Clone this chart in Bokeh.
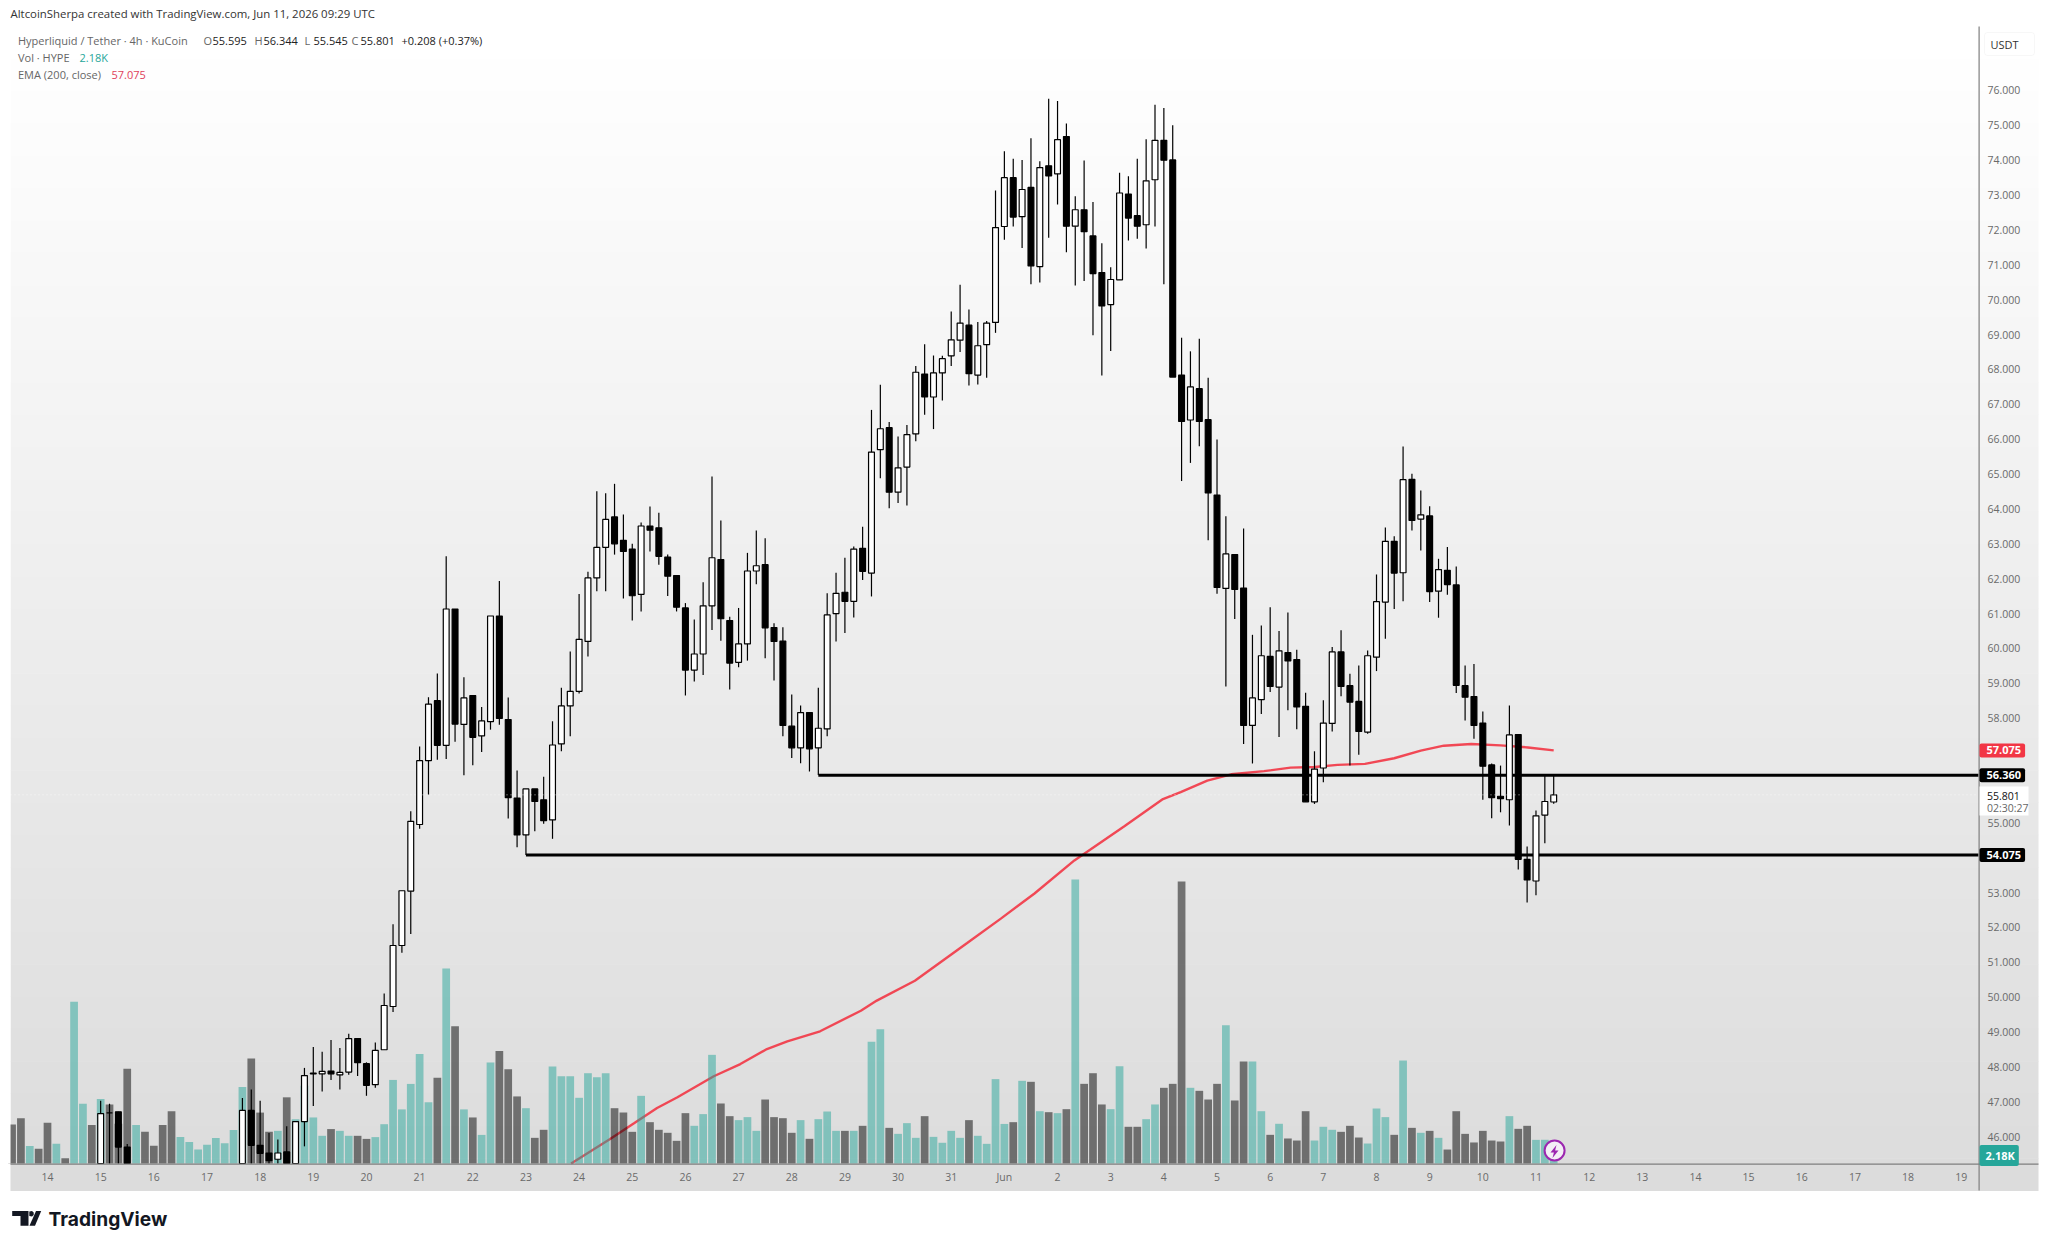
from bokeh.plotting import figure
from bokeh.embed import file_html
from bokeh.resources import INLINE
from bokeh.models import (BoxAnnotation, FixedTicker, Label, LinearAxis, NumeralTickFormatter,
                          PolyAnnotation, Range1d)

# ---------- data ----------
candle_bar = [6, 7, 8, 9] + list(range(22, 171))
open_ = [45.0, 46.68, 46.71, 45.7,
    45.0, 46.75, 45.75, 45.53, 45.35, 45.56, 45.1, 46.43, 47.8, 47.8, 47.88, 47.77, 47.85, 48.81, 48.09, 47.49,
    48.49, 49.73, 51.48, 53.04, 54.95, 56.78, 58.5, 57.22, 61.13, 57.82, 58.65, 57.49, 57.9, 60.93, 57.96, 55.71,
    54.65, 55.97, 55.66, 55.08, 57.26, 58.35, 58.77, 60.2, 62.02, 62.9, 63.77, 63.1, 62.85, 61.55, 63.51, 63.46,
    62.62, 62.09, 61.16, 59.38, 59.84, 61.22, 62.55, 60.8, 59.6, 60.13, 62.22, 62.4, 60.6, 60.21, 57.77, 57.15,
    58.16, 57.15, 57.69, 61.0, 61.61, 61.35, 62.87, 62.16, 65.7, 66.33, 64.48, 65.2, 66.15, 67.87, 67.21, 67.9,
    68.39, 68.84, 69.27, 67.84, 68.71, 69.35, 72.1, 73.5, 72.38, 73.22, 70.95, 73.84, 73.61, 74.68, 72.11, 72.58,
    71.83, 70.78, 69.86, 70.57, 73.03, 72.41, 72.15, 73.44, 74.57, 74.01, 67.84, 66.55, 67.45, 66.56, 64.4, 61.72,
    62.69, 61.73, 57.79, 58.53, 59.77, 58.89, 59.88, 59.68, 58.34, 55.6, 56.57, 57.85, 59.9, 58.93, 58.48, 57.6,
    59.75, 61.33, 63.07, 62.17, 64.85, 63.71, 63.8, 61.64, 62.24, 61.82, 58.93, 58.62, 57.86, 56.66, 55.76, 55.66,
    57.53, 53.95, 53.33, 55.22, 55.595]
high = [47.03, 46.94, 46.71, 45.79,
    47.11, 47.35, 47.03, 46.1, 45.92, 46.3, 46.43, 47.97, 48.57, 48.43, 48.77, 48.54, 48.95, 48.81, 48.13, 48.7,
    50.1, 52.09, 53.05, 55.33, 57.19, 58.6, 59.28, 62.64, 61.13, 59.17, 58.65, 58.32, 60.93, 61.93, 58.59, 56.5,
    55.97, 55.97, 56.32, 57.91, 58.87, 59.91, 61.56, 62.2, 64.51, 64.45, 64.72, 63.84, 63.0, 63.61, 64.07, 63.89,
    62.69, 62.09, 61.3, 60.83, 61.9, 64.93, 63.67, 60.91, 61.16, 62.74, 63.38, 63.16, 60.72, 60.61, 58.68, 58.36,
    58.16, 58.87, 61.58, 62.17, 62.6, 62.92, 63.49, 66.84, 67.56, 66.49, 66.08, 66.41, 68.1, 68.72, 68.4, 68.39,
    69.66, 70.43, 69.72, 69.36, 69.39, 73.13, 74.26, 74.04, 74.01, 74.63, 73.97, 75.76, 75.7, 75.05, 72.97, 73.99,
    72.8, 71.62, 70.93, 73.64, 73.54, 74.04, 74.6, 75.59, 75.5, 75.0, 68.91, 68.52, 68.88, 67.76, 65.99, 63.79,
    62.69, 63.44, 60.39, 60.66, 61.18, 60.5, 61.03, 59.96, 58.73, 57.05, 58.51, 60.04, 60.52, 59.27, 59.51, 59.94,
    62.12, 63.47, 63.22, 65.79, 65.01, 64.53, 64.08, 62.57, 62.91, 62.35, 59.51, 59.55, 58.19, 56.7, 56.64, 58.36,
    57.53, 54.32, 55.35, 56.35, 56.344]
low = [44.8, 44.9, 45.0, 44.9,
    44.9, 45.1, 45.2, 45.2, 45.2, 44.9, 45.0, 45.72, 46.88, 47.29, 47.62, 47.35, 47.77, 47.74, 47.17, 47.4,
    48.49, 49.57, 51.27, 51.81, 54.83, 55.81, 56.81, 56.83, 57.32, 56.36, 56.65, 57.03, 57.67, 57.81, 55.12, 54.3,
    54.075, 54.76, 54.97, 54.54, 57.05, 57.48, 58.71, 59.77, 61.64, 61.64, 62.69, 61.43, 60.8, 61.06, 62.78, 62.4,
    61.5, 61.06, 58.65, 59.05, 59.24, 60.53, 60.22, 58.82, 59.46, 59.65, 61.84, 59.72, 59.08, 57.48, 56.86, 56.71,
    56.47, 56.37, 57.48, 60.2, 60.44, 60.89, 61.96, 61.49, 64.88, 64.02, 64.17, 64.1, 65.94, 66.7, 66.29, 67.11,
    68.1, 68.5, 67.54, 67.57, 67.76, 69.05, 71.72, 72.1, 71.48, 70.44, 70.49, 71.78, 72.73, 71.36, 70.41, 70.54,
    68.98, 67.83, 68.53, 70.57, 71.7, 71.75, 71.47, 72.1, 70.44, 67.78, 64.8, 65.32, 65.8, 63.1, 61.57, 58.91,
    60.84, 57.26, 56.7, 58.12, 58.75, 57.46, 58.23, 57.68, 55.6, 55.54, 56.16, 57.62, 58.63, 56.64, 56.95, 57.55,
    59.35, 60.28, 61.13, 61.35, 63.38, 62.81, 61.33, 60.88, 61.54, 58.72, 57.93, 57.41, 55.66, 55.13, 55.3, 54.92,
    53.66, 52.71, 52.92, 54.41, 55.545]
close = [46.66, 46.68, 45.7, 45.0,
    46.75, 45.75, 45.52, 45.31, 45.53, 45.1, 46.43, 47.75, 47.82, 47.87, 47.8, 47.84, 48.81, 48.12, 47.47, 48.47,
    49.76, 51.48, 53.05, 55.04, 56.78, 58.4, 57.22, 61.13, 57.83, 58.58, 57.45, 57.92, 60.93, 57.99, 55.72, 54.65,
    55.97, 55.61, 55.06, 57.23, 58.35, 58.77, 60.26, 62.02, 62.9, 63.7, 63.0, 62.78, 61.51, 63.51, 63.39, 62.64,
    62.07, 61.18, 59.38, 59.84, 61.22, 62.6, 60.85, 59.58, 60.13, 62.22, 62.37, 60.59, 60.2, 57.79, 57.15, 58.16,
    57.12, 57.71, 60.96, 61.58, 61.35, 62.85, 62.21, 65.63, 66.3, 64.48, 65.18, 66.13, 67.92, 67.21, 67.9, 68.31,
    68.85, 69.33, 67.88, 68.68, 69.33, 72.07, 73.5, 72.37, 73.16, 70.97, 73.79, 73.55, 74.59, 72.11, 72.58, 71.95,
    70.75, 69.82, 70.58, 73.06, 72.34, 72.11, 73.41, 74.57, 74.0, 67.78, 66.51, 67.5, 66.51, 64.46, 61.75, 62.71,
    61.69, 57.79, 58.58, 59.79, 58.91, 59.93, 59.64, 58.32, 55.6, 56.54, 57.86, 59.9, 58.91, 58.46, 57.62, 59.79,
    61.34, 63.07, 62.16, 64.84, 63.67, 63.83, 61.63, 62.26, 61.83, 58.94, 58.6, 57.79, 56.62, 55.72, 55.69, 57.52,
    53.95, 53.36, 55.2, 55.61, 55.801]

vol_first_bar = -4
volume = [4.79, 5.56, 2.15, 1.82,
    5.01, 2.42, 0.66, 19.92, 7.37, 4.73,
    7.93, 7.26, 4.9, 11.67, 4.73, 3.91,
    2.2, 4.73, 6.44, 3.25, 2.64, 1.71,
    2.31, 3.14, 2.48, 4.13, 9.41, 12.93,
    6.27, 3.91, 4.02, 8.15, 5.45, 9.58,
    5.67, 3.41, 4.24, 4.02, 3.41, 3.41,
    3.03, 3.25, 4.84, 10.29, 6.66, 9.8,
    13.48, 7.54, 10.57, 24.0, 16.9, 6.66,
    5.67, 3.52, 12.44, 13.87, 11.61, 8.26,
    6.81, 3.16, 4.15, 11.95, 10.76, 10.76,
    8.09, 11.12, 10.63, 11.12, 6.81, 6.28,
    3.9, 8.33, 5.09, 4.15, 3.78, 2.79,
    6.2, 4.64, 6.08, 13.38, 7.39, 5.83,
    5.34, 5.71, 4.02, 7.88, 5.71, 5.58,
    3.78, 5.34, 3.04, 5.46, 6.4, 4.02,
    4.02, 4.02, 4.64, 14.98, 16.54, 4.39,
    3.65, 4.97, 3.16, 5.83, 3.28, 2.55,
    4.02, 3.16, 5.34, 3.41, 2.42, 10.39,
    4.87, 5.09, 10.18, 10.06, 6.44, 6.32,
    6.2, 6.69, 34.98, 9.81, 11.12, 7.27,
    6.69, 11.99, 4.52, 4.52, 5.46, 7.27,
    9.32, 9.81, 34.73, 9.32, 8.95, 7.88,
    9.81, 17.04, 7.76, 12.56, 12.56, 6.44,
    3.53, 4.89, 3.08, 2.83, 6.44, 2.83,
    4.52, 4.15, 3.9, 4.64, 3.2, 2.46,
    6.77, 5.71, 3.53, 12.68, 4.39, 3.78,
    4.02, 3.16, 1.72, 6.44, 3.65, 2.59,
    4.02, 2.83, 2.71, 5.83, 4.27, 4.64,
    2.91, 2.92, 2.18]
vol_side = ("GGTG" "GTGTTG" "TGGGTG" "GGGTTT" "TTTTTG" "GGTGTT" "TTGTTG" "GTTTTT" "TTGTGT" "GTTGGG"
            "TGGTTT" "TTTTGG" "GTGGGG" "GTTTGG" "TTTGGG" "GTGTTT" "GTGTTG" "TTTGTT" "TTGTTT" "TGTGTG"
            "TGTGGG" "TTGGTT" "GGGTGG" "GTGGTT" "GTGGGT" "TTGGGT" "TTGTGT" "GTGGGG" "GGGTGG" "TTT")

ema_bar = [59.1, 63.5, 66.2, 68.8, 71.1, 75.2, 78.2, 81.2, 83.5, 87.2, 91.8, 93.6, 97.9, 103.8, 107.6, 111.4,
           115.9, 121.5, 125.9, 127.9, 130.9, 133.6, 137.3, 140.3, 143, 145.6, 148.7, 152, 155, 157.6, 160.7,
           164, 167.1, 170]
ema_val = [45.23, 45.93, 46.38, 46.82, 47.13, 47.73, 48.08, 48.51, 48.73, 49.02, 49.61, 49.9, 50.47, 51.55,
           52.25, 52.97, 53.92, 54.89, 55.68, 55.88, 56.21, 56.39, 56.48, 56.58, 56.6, 56.66, 56.69, 56.85, 57.07,
           57.21, 57.26, 57.22, 57.16, 57.075]

level_start_bar = [87, 54]
level_price = [56.36, 54.075]

price_ticks = [46, 47, 48, 49, 50, 51, 52, 53, 55, 58, 59, 60, 61, 62, 63, 64, 65, 66, 67, 68, 69, 70, 71, 72, 73, 74, 75, 76]
day_ticks = list(range(0, 222, 6))
day_labels = ["14", "15", "16", "17", "18", "19", "20", "21", "22", "23", "24", "25", "26", "27", "28", "29", "30", "31",
              "Jun", "2", "3", "4", "5", "6", "7", "8", "9", "10", "11", "12", "13", "14", "15", "16", "17", "18", "19"]

# ---------- figure: the frame fills the whole canvas, so that nothing drawn is clipped ----------
W, H = 2042, 1240
BAR0_PX, BAR_PX = 47, 8.86            # pixel position of bar 0, pixels per bar
P53_PX, PRICE_PX = 892, 34.87         # pixel position of price 53, pixels per price unit
BASE_PX, AXIS_PX = 1163, 1978         # volume baseline, price-scale line
PANE_RIGHT = 2038
VOL_PX = 8.12                         # pixels per 1K of volume


def px_bar(x):
    return (x - BAR0_PX) / BAR_PX


def px_price(y):
    return 53 + (P53_PX - y) / PRICE_PX


BASE_PRICE = px_price(BASE_PX)
AXIS_BAR = px_bar(AXIS_PX)

p = figure(width=W, height=H, output_backend="svg", toolbar_location=None,
           x_range=Range1d(px_bar(0), px_bar(W)), y_range=Range1d(px_price(H), px_price(0)),
           y_axis_location=None, x_axis_location=None,
           min_border_left=0, min_border_right=0, min_border_top=0, min_border_bottom=0,
           background_fill_color="white", border_fill_color="white", outline_line_color=None)
p.grid.visible = False
p.extra_y_ranges = {"vol": Range1d((BASE_PX - H) / VOL_PX, BASE_PX / VOL_PX)}


def cbox(l, r, t, b, fill, level="annotation", alpha=1, line=None, **kw):
    p.add_layout(BoxAnnotation(left=l, right=r, top=t, bottom=b, left_units="canvas", right_units="canvas",
                               top_units="canvas", bottom_units="canvas", fill_color=fill, fill_alpha=alpha,
                               line_color=line, level=level, **kw))


# gradient of the chart area, right scale and time scale
GRAD_TOP, GRAD_BOTTOM = 26, 1190
STEPS = 36
for s in range(STEPS):
    g = 255 - s
    t = GRAD_TOP + (GRAD_BOTTOM - GRAD_TOP) * s / STEPS
    b = GRAD_TOP + (GRAD_BOTTOM - GRAD_TOP) * (s + 1) / STEPS + 0.5
    cbox(10, PANE_RIGHT, t, b, f"#{g:02x}{g:02x}{g:02x}", level="underlay")

yaxis = LinearAxis(ticker=FixedTicker(ticks=price_ticks), formatter=NumeralTickFormatter(format="0.000"),
                   major_tick_line_color=None, minor_tick_line_color=None, axis_line_color=None,
                   major_label_standoff=1987 - W, major_label_text_font="Open Sans",
                   major_label_text_font_size="10.5px", major_label_text_color="#6a6a6a",
                   major_tick_in=0, major_tick_out=0)
p.add_layout(yaxis, "right")
xaxis = LinearAxis(ticker=FixedTicker(ticks=day_ticks),
                   major_label_overrides={t: l for t, l in zip(day_ticks, day_labels)},
                   major_tick_line_color=None, minor_tick_line_color=None, axis_line_color=None,
                   major_label_standoff=1169 - H, major_label_text_font="Open Sans",
                   major_label_text_font_size="10.5px", major_label_text_color="#6a6a6a",
                   major_tick_in=0, major_tick_out=0)
p.add_layout(xaxis, "below")

# EMA under the translucent volume bars
p.line(ema_bar, ema_val, line_color="#f23645", line_width=2.4, line_alpha=0.9)

vol_x = [vol_first_bar + k for k in range(len(volume))]
vol_col = ["#26a69a" if c == "T" else "#000000" for c in vol_side]
p.vbar(x=vol_x, width=0.87, top=volume, bottom=0, fill_color=vol_col, fill_alpha=0.5, line_color=None,
       y_range_name="vol")

p.segment(level_start_bar, level_price, [AXIS_BAR] * 2, level_price, line_color="black", line_width=3)

# candles are cut at the baseline of the pane
p.segment(candle_bar, high, candle_bar, [max(v, BASE_PRICE) for v in low], line_color="black", line_width=1.2)
up = [c >= o for o, c in zip(open_, close)]
p.vbar(x=candle_bar, width=0.66, top=[max(o, c) for o, c in zip(open_, close)],
       bottom=[max(min(o, c), BASE_PRICE) for o, c in zip(open_, close)],
       fill_color=["white" if u else "black" for u in up], line_color="black", line_width=1.2)

# last-price dotted line
p.segment([px_bar(10)], [close[-1]], [AXIS_BAR], [close[-1]], line_color="white", line_alpha=0.7, line_width=1,
          line_dash="1 3")

# the first volume bar is cut at the left edge of the pane
cbox(0, 10, 26, BASE_PX, "white")

# scale lines
cbox(AXIS_PX, AXIS_PX + 1.2, 26, 1190, "#7f7f7f")
cbox(10, PANE_RIGHT, BASE_PX, BASE_PX + 1.2, "#7f7f7f")

# event icon on the last bar
p.scatter([170.1], [1.6], y_range_name="vol", marker="circle", size=20, fill_color="#f3eef6",
          line_color="#9c27b0", line_width=2)
p.add_layout(PolyAnnotation(xs=[1556, 1550, 1553.4, 1552, 1558, 1554.6], ys=[1144.5, 1152, 1152, 1157.5, 1150, 1150],
                            xs_units="canvas", ys_units="canvas", fill_color="#9c27b0", fill_alpha=1, line_color=None))


def canvas_label(x, y, text, color="#666666", size="11px", style="normal", font="Open Sans", align="left"):
    p.add_layout(Label(x=x, y=y, x_units="canvas", y_units="canvas", text=text, text_color=color,
                       text_font_size=size, text_font_style=style, text_font=font, text_align=align,
                       text_baseline="middle"))


canvas_label(10, 13, "AltcoinSherpa created with TradingView.com, Jun 11, 2026 09:29 UTC", color="#333333", size="11.4px")
canvas_label(17.5, 40, "Hyperliquid / Tether · 4h · KuCoin")
for xo, letter, num in [(203, "O", "55.595"), (254, "H", "56.344"), (304, "L", "55.545"), (351, "C", "55.801")]:
    canvas_label(xo, 40, letter)
    canvas_label(xo + 9, 40, num, color="#222222")
canvas_label(401, 40, "+0.208 (+0.37%)", color="#222222")
canvas_label(17.5, 57, "Vol · HYPE")
canvas_label(79, 57, "2.18K", color="#26a69a")
canvas_label(17.5, 74, "EMA (200, close)")
canvas_label(111, 74, "57.075", color="#e0405a")

# USDT box
cbox(1984, 2034, 32, 55, "white", alpha=0.9, line="#e4e4e4", border_radius=3)
canvas_label(2004, 43.5, "USDT", color="#333333", align="center")

# price pills on the scale
for price, txt, bg in [(57.075, "57.075", "#f23645"), (56.36, "56.360", "#000000"), (54.075, "54.075", "#000000")]:
    p.add_layout(Label(x=AXIS_PX + 1, y=price, x_units="canvas", text=txt, text_color="white", text_font="Open Sans",
                       text_font_size="11px", text_font_style="bold", text_baseline="middle",
                       background_fill_color=bg, background_fill_alpha=1, padding=(7, 4, 3, 3), border_radius=2))
cbox(AXIS_PX + 1, 2028, 786, 815, "white")
canvas_label(1986.5, 795, "55.801", color="#111111", size="10.5px")
canvas_label(1986.5, 807, "02:30:27", color="#666666", size="10.5px")
p.add_layout(Label(x=AXIS_PX + 1, y=1155, x_units="canvas", y_units="canvas", text="2.18K", text_color="white",
                   text_font="Open Sans", text_font_size="11px", text_font_style="bold", text_baseline="middle",
                   background_fill_color="#26a69a", background_fill_alpha=1, padding=(6, 4, 3, 3), border_radius=2))

# TradingView mark
for xs, ys in [([11.7, 28, 28, 20, 20, 11.7], [1210.5, 1210.5, 1225.2, 1225.2, 1215.5, 1215.5]),
               ([35.5, 40.7, 34.5, 29], [1210.5, 1210.5, 1225.2, 1225.2]),
               ([28.8, 31.5, 33.2, 33.2, 31.5, 28.8], [1211, 1210.5, 1212, 1214.5, 1216, 1215.5])]:
    p.add_layout(PolyAnnotation(xs=xs, ys=ys, xs_units="canvas", ys_units="canvas", fill_color="#131722",
                                fill_alpha=1, line_color=None))
canvas_label(48, 1218.5, "TradingView", color="#131722", size="19.2px", style="bold", font="Inter")

open("out.html", "w").write(file_html(p, INLINE))
